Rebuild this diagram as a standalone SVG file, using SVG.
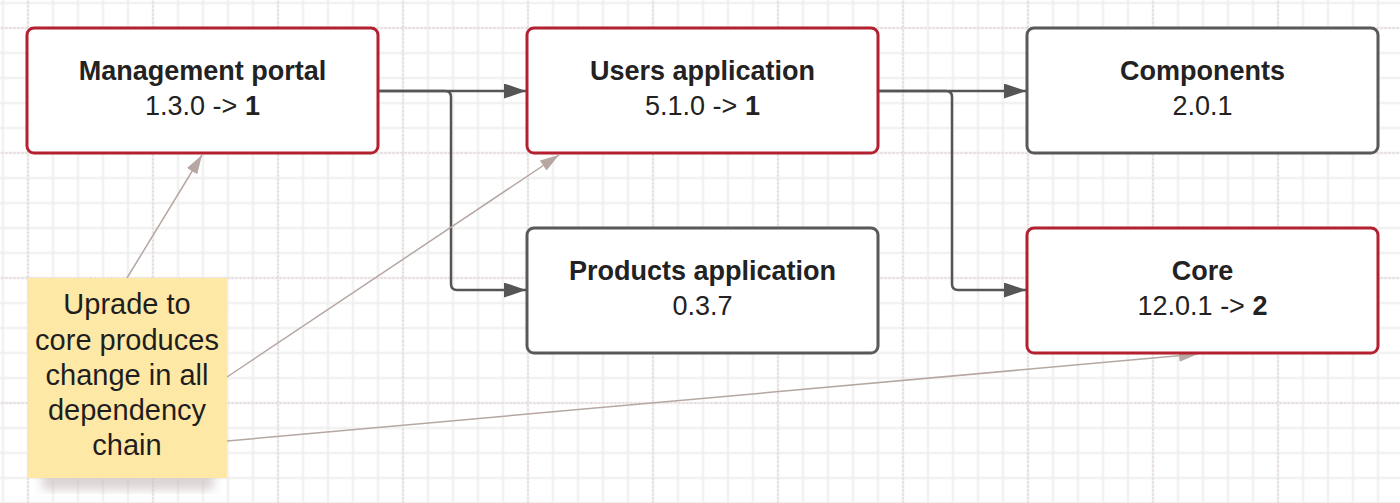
<svg xmlns="http://www.w3.org/2000/svg" width="1400" height="503" viewBox="0 0 1400 503">
  <style>
    .node rect { fill: #ffffff; stroke-width: 3; }
    .red rect { stroke: #b3202f; }
    .gray rect { stroke: #595959; }
    .title { font-family: "Liberation Sans", Arial, sans-serif; font-size: 27px; font-weight: bold; fill: #222222; text-anchor: middle; }
    .ver { font-family: "Liberation Sans", Arial, sans-serif; font-size: 27px; fill: #222222; text-anchor: middle; }
    .ver tspan { font-weight: bold; }
    .note-text { font-family: "Liberation Sans", Arial, sans-serif; font-size: 29px; fill: #1e1e1e; text-anchor: middle; }
    .dep { fill: none; stroke: #555555; stroke-width: 2.5; marker-end: url(#arrowDark); }
    .ann { fill: none; stroke: #b6a7a2; stroke-width: 1.5; marker-end: url(#arrowLight); }
  </style>
  <defs>
    <pattern id="minor" patternUnits="userSpaceOnUse" x="-9.5" y="-9.5" width="25" height="25">
      <path d="M0,12.5 H25 M12.5,0 V25" stroke="#eeeeee" stroke-width="2" fill="none"/>
    </pattern>
    <pattern id="major" patternUnits="userSpaceOnUse" x="-34.5" y="-34.5" width="125" height="125">
      <path d="M0,62.5 H125 M62.5,0 V125" stroke="#dcc4c7" stroke-width="1" stroke-dasharray="2 2" fill="none"/>
    </pattern>
    <marker id="arrowDark" markerUnits="userSpaceOnUse" markerWidth="22" markerHeight="16" refX="22" refY="7.5" orient="auto">
      <path d="M0,0 L22,7.5 L0,15 Z" fill="#555555"/>
    </marker>
    <marker id="arrowLight" markerUnits="userSpaceOnUse" markerWidth="19" markerHeight="13" refX="19" refY="6" orient="auto">
      <path d="M0,0 L19,6 L0,12 Z" fill="#b6a7a2"/>
    </marker>
    <filter id="shadow" x="-20%" y="-20%" width="140%" height="140%">
      <feGaussianBlur stdDeviation="5"/>
    </filter>
  </defs>

  <rect x="0" y="0" width="1400" height="503" fill="#ffffff"/>
  <rect x="0" y="0" width="1400" height="503" fill="url(#minor)"/>
  <rect x="0" y="0" width="1400" height="503" fill="url(#major)"/>

  <g id="connectors">
    <path class="dep" d="M378,91 H526"/>
    <path class="dep" d="M378,91 H445 Q451,91 451,97 V284 Q451,290 457,290 H526"/>
    <path class="dep" d="M878,91 H1026"/>
    <path class="dep" d="M878,91 H946 Q952,91 952,97 V284 Q952,290 958,290 H1026"/>
    <path class="ann" d="M127,278 L202,155"/>
    <path class="ann" d="M227,377 L559,155"/>
    <path class="ann" d="M227,441 L1198,354"/>
  </g>

  <g id="management-portal" class="node red">
    <rect x="27" y="28" width="351" height="125" rx="7"/>
    <text class="title" x="202.5" y="80">Management portal</text>
    <text class="ver" x="202.5" y="114.5">1.3.0 -&gt; <tspan>1</tspan></text>
  </g>

  <g id="users-application" class="node red">
    <rect x="527" y="28" width="351" height="125" rx="7"/>
    <text class="title" x="702.5" y="80">Users application</text>
    <text class="ver" x="702.5" y="114.5">5.1.0 -&gt; <tspan>1</tspan></text>
  </g>

  <g id="components" class="node gray">
    <rect x="1027" y="28" width="351" height="125" rx="7"/>
    <text class="title" x="1202.5" y="80">Components</text>
    <text class="ver" x="1202.5" y="114.5">2.0.1</text>
  </g>

  <g id="products-application" class="node gray">
    <rect x="527" y="228" width="351" height="125" rx="7"/>
    <text class="title" x="702.5" y="280">Products application</text>
    <text class="ver" x="702.5" y="314.5">0.3.7</text>
  </g>

  <g id="core" class="node red">
    <rect x="1027" y="228" width="351" height="125" rx="7"/>
    <text class="title" x="1202.5" y="280">Core</text>
    <text class="ver" x="1202.5" y="314.5">12.0.1 -&gt; <tspan>2</tspan></text>
  </g>

  <g id="note">
    <rect x="42" y="470" width="172" height="20" fill="#cfc3c3" opacity="0.7" filter="url(#shadow)"/>
    <rect x="27" y="278" width="200" height="200" fill="#fee8a6"/>
    <text class="note-text" x="127" y="314">Uprade to</text>
    <text class="note-text" x="127" y="349.5">core produces</text>
    <text class="note-text" x="127" y="385">change in all</text>
    <text class="note-text" x="127" y="420">dependency</text>
    <text class="note-text" x="127" y="455">chain</text>
  </g>
</svg>
